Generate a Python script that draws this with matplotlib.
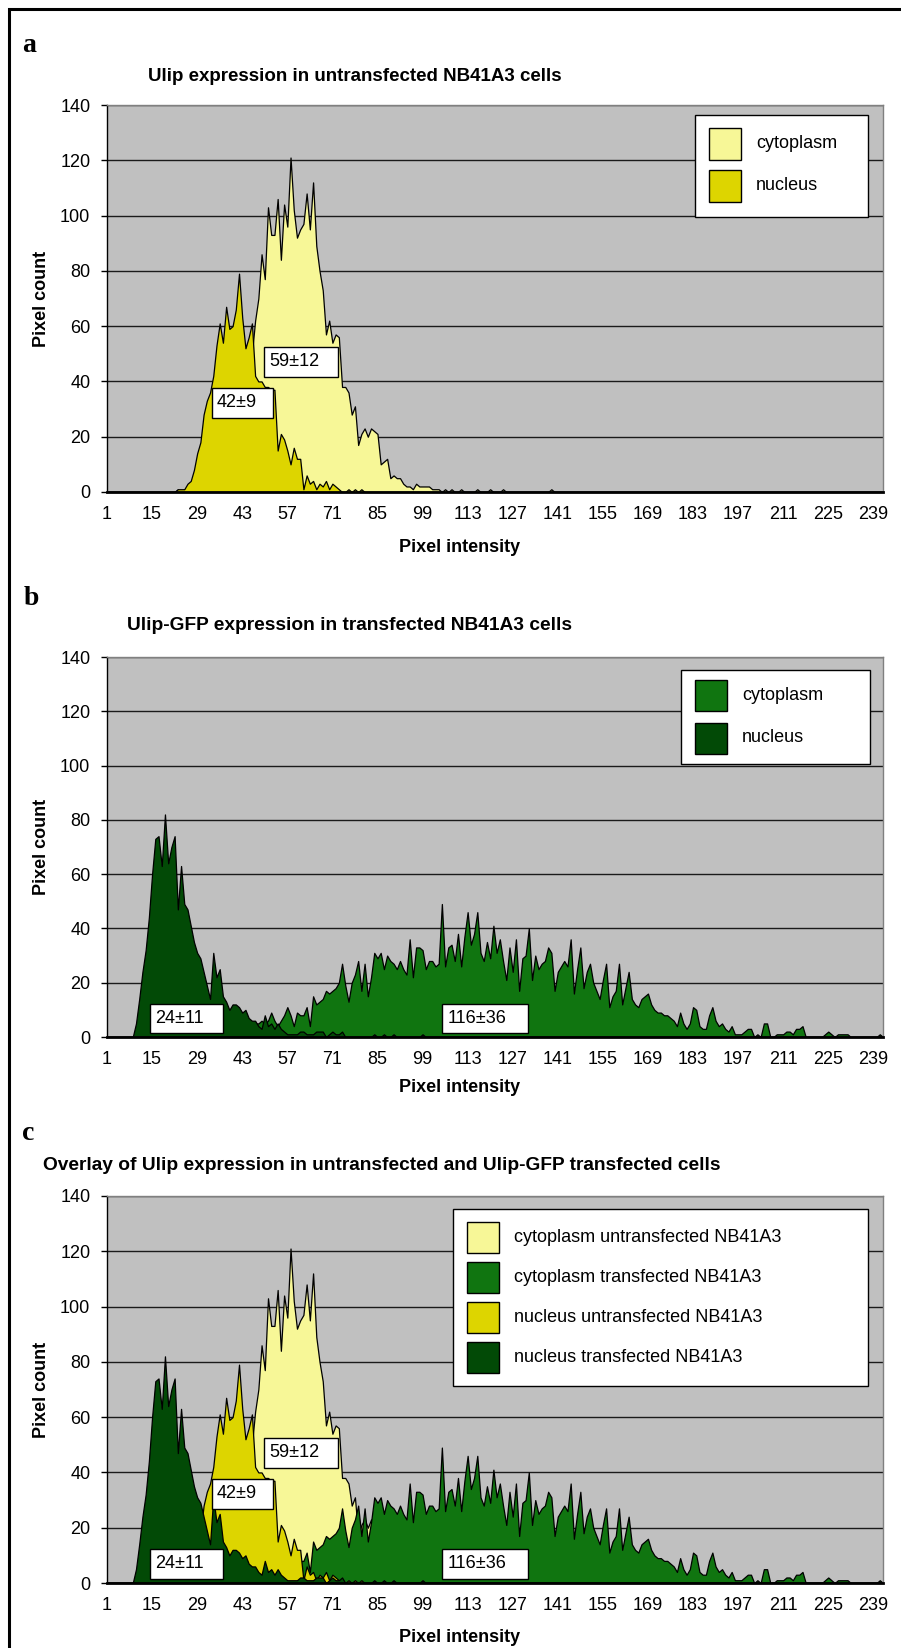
import matplotlib
matplotlib.use("Agg")
import matplotlib.pyplot as plt
from matplotlib.patches import Rectangle
import numpy as np

plt.rcParams['font.family'] = ['Liberation Sans', 'DejaVu Sans']

# pixel intensity bins 1..242
N_BINS = 242
intensity = np.arange(1, N_BINS + 1)
tick_values = np.arange(1, 240, 14)

# histogram counts, listed from the first non-empty bin
cyto_untr_start = 22
cyto_untr_counts = [
    0, 1, 0, 1, 1, 2, 3, 4, 5, 7, 9, 11, 13, 16, 19,
    22, 25, 28, 31, 34, 37, 40, 43, 46, 50, 62, 70, 86, 77, 103,
    93, 93, 106, 84, 104, 96, 121, 102, 92, 95, 97, 108, 95, 112, 89,
    80, 73, 57, 62, 54, 57, 56, 38, 38, 36, 28, 31, 17, 21, 23,
    20, 23, 22, 21, 10, 11, 12, 5, 6, 5, 5, 3, 2, 2, 1,
    3, 2, 2, 2, 2, 1, 1, 1, 0, 1, 0, 1, 0, 0, 1,
    0, 0, 0, 0, 1, 0, 0, 0, 1, 0, 0, 0, 1, 0, 0,
    0, 0, 0, 0, 0, 0, 0, 0, 0, 0, 0, 0, 1,
]

nuc_untr_start = 22
nuc_untr_counts = [
    0, 1, 1, 1, 3, 4, 8, 14, 18, 28, 33, 36, 42, 53, 61,
    54, 67, 59, 60, 66, 79, 63, 52, 56, 61, 42, 40, 40, 38, 38,
    37, 37, 15, 21, 19, 15, 10, 16, 12, 12, 1, 6, 3, 4, 1,
    3, 2, 4, 1, 3, 2, 1, 0, 0, 1, 0, 1, 0, 1,
]

cyto_tr_start = 16
cyto_tr_counts = [
    0, 1, 1, 1, 1, 1, 1, 2, 2, 2, 2, 2, 3, 3, 3,
    3, 3, 3, 4, 4, 4, 4, 4, 5, 5, 5, 5, 5, 4, 5,
    5, 5, 5, 6, 5, 6, 9, 6, 4, 6, 8, 11, 8, 4, 9,
    8, 8, 11, 4, 15, 12, 13, 14, 17, 16, 17, 18, 20, 27, 19,
    13, 20, 23, 28, 17, 27, 15, 22, 31, 29, 31, 25, 30, 28, 27,
    25, 28, 25, 23, 36, 22, 33, 33, 32, 25, 28, 28, 26, 27, 49,
    26, 33, 34, 28, 38, 26, 37, 46, 34, 38, 46, 31, 28, 35, 29,
    41, 31, 36, 28, 21, 33, 24, 36, 17, 29, 30, 40, 21, 30, 25,
    27, 28, 33, 31, 17, 24, 26, 28, 26, 36, 16, 25, 33, 18, 24,
    27, 20, 17, 14, 21, 27, 11, 15, 17, 27, 12, 18, 24, 14, 12,
    11, 14, 15, 16, 12, 10, 9, 9, 8, 8, 7, 6, 4, 9, 5,
    3, 5, 11, 10, 4, 3, 3, 8, 11, 6, 4, 5, 3, 2, 4,
    1, 1, 1, 2, 3, 3, 0, 1, 0, 5, 5, 0, 0, 1, 1,
    1, 2, 2, 1, 3, 3, 4, 0, 0, 0, 0, 0, 0, 1, 2,
    1, 0, 1, 1, 1, 1, 0, 0, 0, 0, 0, 0, 0, 0, 0,
    1, 0,
]

nuc_tr_start = 9
nuc_tr_counts = [
    0, 5, 14, 24, 32, 44, 60, 73, 74, 63, 82, 64, 70, 74, 47,
    63, 49, 47, 41, 35, 31, 29, 24, 19, 14, 31, 22, 25, 15, 13,
    10, 12, 12, 11, 9, 10, 7, 6, 6, 4, 3, 8, 4, 5, 3,
    5, 3, 2, 1, 1, 1, 1, 2, 2, 1, 1, 1, 2, 2, 2,
    0, 1, 2, 1, 1, 2, 0, 0, 0, 0, 0, 0, 0, 0, 0,
    1, 0, 0, 1, 0, 0, 1, 0, 0, 0, 0, 0, 0, 0, 0,
    1, 0,
]

series_names = ['cytoplasm', 'nucleus']
overlay_names = ['cytoplasm untransfected NB41A3', 'cytoplasm transfected NB41A3',
                 'nucleus untransfected NB41A3', 'nucleus transfected NB41A3']
titles = ['Ulip expression in untransfected NB41A3 cells',
          'Ulip-GFP expression in transfected NB41A3 cells',
          'Overlay of Ulip expression in untransfected and Ulip-GFP transfected cells']

# mean +/- sd boxes: text, (x0, x1, y0, y1) in data units
stats_untr = [('59±12', (49.8, 72.8, 41.6, 52.5)), ('42±9', (33.6, 52.6, 26.8, 37.6))]
stats_tr = [('24±11', (14.4, 37.0, 1.6, 12.2)), ('116±36', (105.1, 131.8, 1.6, 12.2))]

C_CYTO_UNTR = '#F7F797'
C_NUC_UNTR = '#DDD500'
C_CYTO_TR = '#107510'
C_NUC_TR = '#024A06'


def full_hist(start, counts):
    h = np.zeros(N_BINS)
    h[start - 1:start - 1 + len(counts)] = counts
    return h


cyto_untr = full_hist(cyto_untr_start, cyto_untr_counts)
nuc_untr = full_hist(nuc_untr_start, nuc_untr_counts)
cyto_tr = full_hist(cyto_tr_start, cyto_tr_counts)
nuc_tr = full_hist(nuc_tr_start, nuc_tr_counts)

W, H = 901, 1648
fig = plt.figure(figsize=(W / 100, H / 100), dpi=100)


def fx(x):
    return x / W


def fy(y):
    return 1 - y / H


def setup_axes(top, bottom):
    ax = fig.add_axes([fx(107), fy(bottom), (883 - 107) / W, (bottom - top) / H])
    ax.set_facecolor('#C0C0C0')
    ax.set_xlim(1, N_BINS)
    ax.set_ylim(0, 140)
    ax.set_yticks(range(0, 141, 20))
    ax.set_xticks(tick_values)
    ax.yaxis.grid(True, color='#1a1a1a', linewidth=1.0)
    ax.set_axisbelow(True)
    ax.tick_params(axis='y', length=4, width=1, pad=8, labelsize=13)
    ax.tick_params(axis='x', length=0, pad=10, labelsize=13)
    for s in ['top', 'right']:
        ax.spines[s].set_color('#808080')
        ax.spines[s].set_linewidth(1)
    ax.spines['left'].set_linewidth(1)
    ax.spines['bottom'].set_linewidth(2)
    return ax


def stat_boxes(ax, stats):
    for text, (x0, x1, y0, y1) in stats:
        ax.add_patch(Rectangle((x0, y0), x1 - x0, y1 - y0, facecolor='white',
                               edgecolor='black', linewidth=1, zorder=5))
        ax.text(x0 + 1.6, (y0 + y1) / 2, text, fontsize=13, va='center', ha='left', zorder=6)


def area(ax, counts, color, label):
    ax.fill_between(intensity, counts, facecolor=color, edgecolor='black',
                    linewidth=0.9, label=label)


def fig_rect(x0, y0, x1, y1, **kw):
    # rectangle given in figure pixels, y measured from the top
    r = Rectangle((fx(x0), fy(y1)), (x1 - x0) / W, (y1 - y0) / H,
                  transform=fig.transFigure, zorder=10, **kw)
    fig.patches.append(r)


def draw_legend(ax, box, rows):
    # white box with square swatches taken from the area fills
    x0, y0, x1, y1 = box
    fig_rect(x0, y0, x1, y1, facecolor='white', edgecolor='black', linewidth=1)
    for coll, yc in zip(ax.collections, rows):
        fig_rect(x0 + 14, yc - 15.5, x0 + 46, yc + 15.5,
                 facecolor=coll.get_facecolor()[0], edgecolor='black', linewidth=1)
        fig.text(fx(x0 + 61), fy(yc), coll.get_label(), fontsize=13,
                 va='center', ha='left', zorder=11)


def panel_text(letter, lx, ly, title, tsize, tx, ty, top, bottom, xl_y):
    fig.text(fx(lx), fy(ly), letter, family='Liberation Serif', weight='bold',
             fontsize=20, va='baseline')
    fig.text(fx(tx), fy(ty), title, weight='bold', fontsize=tsize, va='baseline')
    fig.text(fx(41), fy((top + bottom) / 2), 'Pixel count', weight='bold', fontsize=13,
             rotation=90, ha='center', va='center')
    fig.text(fx(460), fy(xl_y), 'Pixel intensity', weight='bold', fontsize=13,
             ha='center', va='center')


# a: untransfected cells
ax_a = setup_axes(105, 492)
area(ax_a, cyto_untr, C_CYTO_UNTR, series_names[0])
area(ax_a, nuc_untr, C_NUC_UNTR, series_names[1])
stat_boxes(ax_a, stats_untr)
draw_legend(ax_a, (695, 115, 868, 217), [144, 186])
panel_text('a', 22, 52, titles[0], 13.5, 148, 81, 105, 492, 548)

# b: Ulip-GFP transfected cells
ax_b = setup_axes(657, 1037)
area(ax_b, cyto_tr, C_CYTO_TR, series_names[0])
area(ax_b, nuc_tr, C_NUC_TR, series_names[1])
stat_boxes(ax_b, stats_tr)
draw_legend(ax_b, (681, 670, 870, 764), [696, 738])
panel_text('b', 24, 605, titles[1], 13.8, 127, 630, 657, 1037, 1088)

# c: overlay of both
ax_c = setup_axes(1196, 1583)
area(ax_c, cyto_untr, C_CYTO_UNTR, overlay_names[0])
area(ax_c, cyto_tr, C_CYTO_TR, overlay_names[1])
area(ax_c, nuc_untr, C_NUC_UNTR, overlay_names[2])
area(ax_c, nuc_tr, C_NUC_TR, overlay_names[3])
stat_boxes(ax_c, stats_untr + stats_tr)
draw_legend(ax_c, (453, 1209, 868, 1386), [1237, 1277, 1317, 1357])
panel_text('c', 22, 1140, titles[2], 13.8, 43, 1170, 1196, 1583, 1637)

# outer frame
fig_rect(9, 9, 940, 1700, fill=False, edgecolor='black', linewidth=2.2)

fig.savefig('out.png', dpi=100)
